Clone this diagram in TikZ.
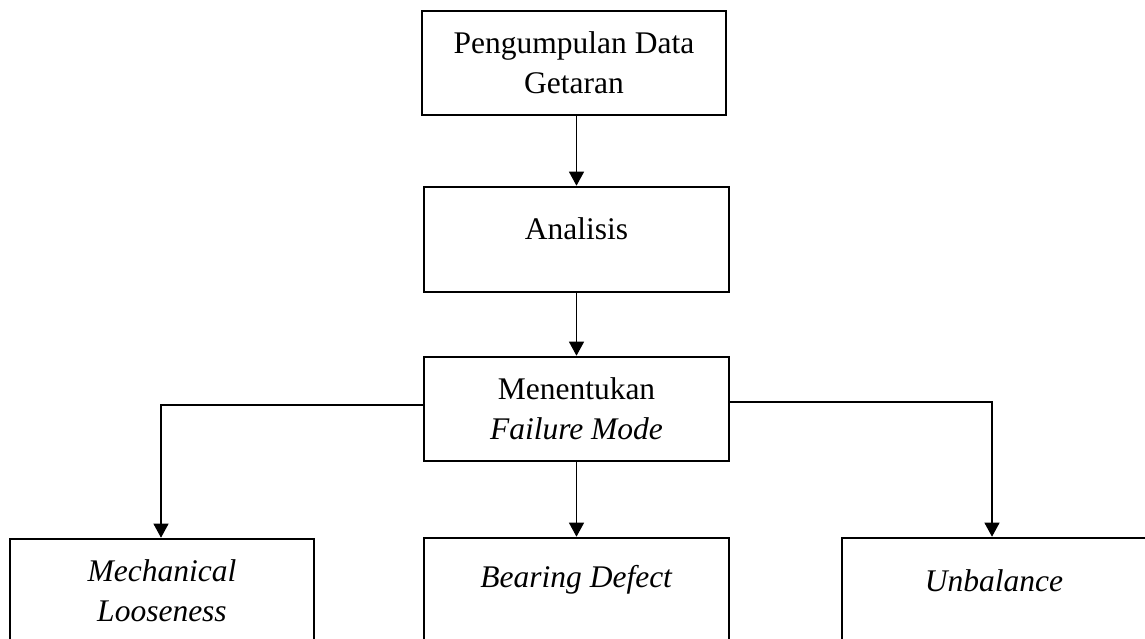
\documentclass[tikz,border=0pt]{standalone}
\usepackage{fontspec}
\setmainfont{Liberation Serif}
\usetikzlibrary{arrows.meta,positioning}

\begin{document}
\begin{tikzpicture}[x=1pt, y=-1pt,
        box/.style={draw, line width=2.6pt, inner sep=0pt, align=center,
            minimum width=304pt, minimum height=104pt,
            font=\fontsize{31.5}{40}\selectfont},
        link/.style={line width=1.1pt, -{Triangle[length=14pt,width=15pt]}}]
        \clip (0,0) rectangle (1145,639);

        % Top
        \node[box] (collect) at (574, 63) {Pengumpulan Data\\Getaran};
        \node[box, minimum width=305pt, minimum height=105pt, text depth=22pt] (analisis) at (576.5, 239.5) {Analisis};
        \node[box, minimum width=305pt] (mode) at (576.5, 409) {Menentukan\\\textit{Failure Mode}};

        \draw[link] (analisis.north |- collect.south) -- (analisis.north);
        \draw[link] (analisis.south) -- (mode.north);

        % Failure modes
        \node[box] (loose) at (162, 591) {\textit{Mechanical}\\\textit{Looseness}};
        \node[box, minimum width=305pt, text depth=28pt] (bearing) at (576.5, 590) {\textit{Bearing Defect}};
        \node[box, text depth=19pt] (unbal) at (994, 590) {\textit{Unbalance}};

        \draw[link] ([yshift=4pt]mode.west) -| ([xshift=-1pt]loose.north);
        \draw[link] (mode.south) -- (bearing.north);
        \draw[link] ([yshift=7pt]mode.east) -| ([xshift=-2pt]unbal.north);
    \end{tikzpicture}
\end{document}
